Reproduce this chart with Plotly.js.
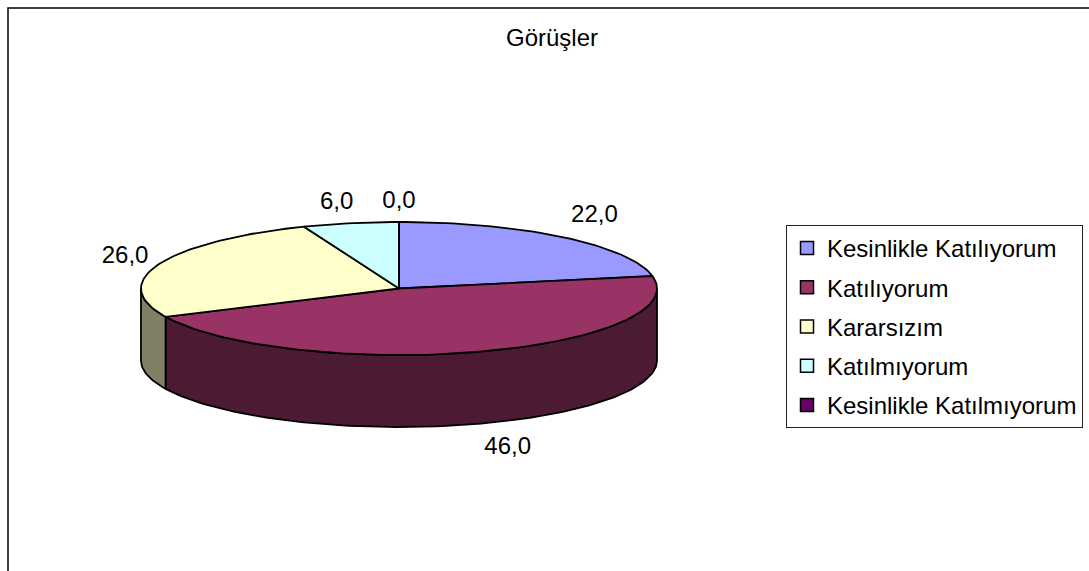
<!DOCTYPE html>
<html><head><meta charset="utf-8">
<script src="https://cdn.plot.ly/plotly-3.0.1.min.js"></script>
<style>html,body{margin:0;padding:0;background:#fff;overflow:hidden}</style>
</head><body><div id="chart" style="width:1089px;height:571px"></div>
<script>
const categories = ["Kesinlikle Katılıyorum","Katılıyorum","Kararsızım","Katılmıyorum","Kesinlikle Katılmıyorum"];
const values = [22, 46, 26, 6, 0];
const chartTitle = "Görüşler";
const topColors = ["#9999FF","#993366","#FFFFCC","#CCFFFF","#660066"];
const sideColors = ["#4D4D80","#4D1A33","#808066","#668080","#330033"];

// geometry of the tilted pie on a canvas-sized axis
const W = 1089, H = 571, FONT = "Liberation Sans, Arial, sans-serif", FS = 24;
const CX = 399, CY = 288.5, RX = 258, RY = 66.5, DEPTH = 72;
// label offset from the slice's mid-rim point [dx, dy]
const labelShift = [[31,-21],[29,96],[-34,-7],[-14,-20],[0,-20]];

const total = values.reduce((a,b)=>a+b,0);
const rad = d => d*Math.PI/180;
const px = a => CX + RX*Math.sin(rad(a));
const py = a => CY - RY*Math.cos(rad(a));
function arc(a0,a1){ const n=Math.max(1,Math.ceil(Math.abs(a1-a0)/1.5)), o=[];
  for(let i=0;i<=n;i++) o.push(a0+(a1-a0)*i/n); return o; }

const sides=[], tops=[], lx=[], ly=[], lt=[], legendTraces=[];
let cum=0;
values.forEach((v,i)=>{
  const a0=cum/total*360, a1=(cum+v)/total*360; cum+=v;
  const s0=Math.max(a0,90), s1=Math.min(a1,270);
  if(s1>s0){
    const f=arc(s0,s1), xs=f.map(px), ys=f.map(py);
    sides.push({type:"scatter",mode:"lines",fill:"toself",fillcolor:sideColors[i],
      x:xs.concat(xs.slice().reverse(),[xs[0]]),
      y:ys.concat(ys.map(y=>y+DEPTH).reverse(),[ys[0]]),
      line:{color:"#000",width:1.8},hoverinfo:"skip",showlegend:false});
  }
  const t=arc(a0,a1);
  tops.push({type:"scatter",mode:"lines",fill:"toself",fillcolor:topColors[i],
    x:[CX].concat(t.map(px),[CX]), y:[CY].concat(t.map(py),[CY]),
    line:{color:"#000",width:1.8},hoverinfo:"skip",showlegend:false});
  const m=(a0+a1)/2;
  lx.push(px(m)+labelShift[i][0]); ly.push(py(m)+labelShift[i][1]);
  lt.push(v.toFixed(1).replace(".",","));
  legendTraces.push({type:"scatter",mode:"markers",x:[null],y:[null],name:categories[i],
    legendgroup:"g"+i,marker:{symbol:"square",size:13,color:topColors[i],line:{color:"#000",width:1.5}}});
});
const labels={type:"scatter",mode:"text",x:lx,y:ly,text:lt,textposition:"middle center",
  textfont:{family:FONT,size:FS,color:"#000"},hoverinfo:"skip",showlegend:false};

Plotly.newPlot("chart",sides.concat(tops,[labels],legendTraces),{
  width:W,height:H,margin:{l:0,r:0,t:0,b:0},paper_bgcolor:"#fff",plot_bgcolor:"#fff",
  font:{family:FONT,size:FS,color:"#000"},
  title:{text:chartTitle,x:552/W,xanchor:"center",y:1-38/H,yanchor:"middle",yref:"container",font:{family:FONT,size:FS,color:"#000"}},
  xaxis:{range:[0,W],visible:false,fixedrange:true},
  yaxis:{range:[H,0],visible:false,fixedrange:true},
  shapes:[{type:"rect",xref:"x",yref:"y",x0:8,y0:8,x1:W+20,y1:H+20,line:{color:"#000",width:1.5},layer:"below"}],
  legend:{x:786/W,xanchor:"left",y:1-225/H,yanchor:"top",bgcolor:"#fff",bordercolor:"#222",borderwidth:1,
    tracegroupgap:5,traceorder:"grouped",font:{family:FONT,size:FS,color:"#000"}}
},{displayModeBar:false,staticPlot:true});
</script></body></html>
